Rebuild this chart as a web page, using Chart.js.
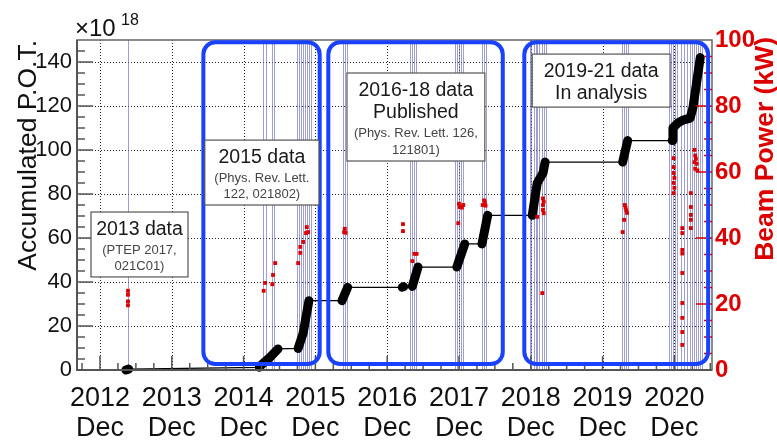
<!DOCTYPE html>
<html>
<head>
<meta charset="utf-8">
<script src="https://cdn.jsdelivr.net/npm/chart.js@4.4.1/dist/chart.umd.min.js"></script>
<style>
html,body{margin:0;padding:0;background:#fff;overflow:hidden}
canvas{display:block}
</style>
</head>
<body>
<canvas id="c" width="777" height="444" style="width:777px;height:444px"></canvas>
<script>
// x values are years after December 2012
const xTickYears = ['2012','2013','2014','2015','2016','2017','2018','2019','2020'];
const xTickValues = [0,1,2,3,4,5,6,7,8];
const leftTickValues = [0,20,40,60,80,100,120,140];
const rightTickValues = [0,20,40,60,80,100];

// Accumulated P.O.T. (x10^18), one list per beam run: [years after Dec 2012, POT]
const potRuns = [
  [[0.36,0],[0.40,0.4]],
  [[2.22,1.2],[2.26,2.7],[2.37,5.9],[2.48,9.6]],
  [[2.76,9.8],[2.83,16.8],[2.88,26],[2.91,31.5]],
  [[3.37,31.5],[3.45,37.6]],
  [[4.21,37.6],[4.23,37.9]],
  [[4.35,38],[4.43,46.8]],
  [[4.97,46.8],[5.08,57.3]],
  [[5.32,57.3],[5.40,70.3]],
  [[6.02,70.3],[6.09,85],[6.17,89.5],[6.20,94.5]],
  [[7.28,94.5],[7.35,104.3]],
  [[7.97,104.3],[7.98,110],[8.05,112.3],[8.12,113.6],[8.22,114.5],[8.26,119.5],[8.36,142]]
];

// Beam power (kW)
const powerTimes = [
  0.39,0.39,0.39,0.39,
  2.28,2.30,2.40,2.41,2.44,2.76,2.79,2.79,2.83,2.87,2.88,2.90,
  3.40,3.41,3.42,4.22,4.22,4.35,4.38,4.41,
  4.99,5.01,5.00,5.04,5.06,5.33,5.35,5.37,5.36,
  6.09,6.16,6.17,6.18,6.17,6.17,6.18,
  7.28,7.30,7.31,7.32,7.33,7.34,
  7.99,7.99,7.99,8.00,7.99,8.00,7.99,
  8.11,8.11,8.11,8.11,8.11,8.11,8.11,8.11,8.11,
  8.23,8.23,8.23,8.23,8.23,
  8.28,8.29,8.30,8.31,8.29,8.32,8.28
];
const powerKW = [
  24,22.8,20.8,19.6,
  24,26.4,26,28.8,32.4,32.4,35.5,37.3,38.8,41.5,43.3,41.8,
  41.8,42.8,41.6,44.2,42.1,33,35.2,35.2,
  44.5,49.4,50.4,49.2,50,50,51.4,49.8,50.8,
  46.4,23.3,52,51,50,48.5,47.5,
  41.8,45.5,50,49.2,48.4,47.6,
  64.2,61.5,59.7,58.2,56.7,55.2,53.6,
  43,41.5,36.4,35.3,29.4,20.3,15.8,11.5,7.6,
  53.6,49.4,47,45.5,43,
  66.7,65,64,62.5,61,60.5,63
];

// Run boundary markers (years after Dec 2012)
const runLineTimes = [
  0.39,
  2.27,2.31,2.40,2.42,
  2.74,2.77,2.80,2.83,2.86,2.88,2.91,2.94,
  3.38,3.41,3.44,
  4.32,4.35,4.37,4.40,
  4.94,4.97,5.00,5.03,5.06,
  5.32,5.35,5.38,
  5.99,6.01,6.04,6.07,6.09,6.12,6.15,6.18,6.21,
  7.27,7.30,7.33,7.35,
  7.92,7.95,7.98,8.01,8.04,8.09,8.13,8.17,8.22,8.25,8.27,8.30,8.33,8.36,8.39
];

// Analysis period frames [t0, t1] and notes
const periodFrames = [[1.44,3.06],[3.18,5.61],[5.91,8.47]];
const noteTexts = [
  ['2013 data','(PTEP 2017,','021C01)'],
  ['2015 data','(Phys. Rev. Lett.','122, 021802)'],
  ['2016-18 data','Published','(Phys. Rev. Lett. 126,','121801)'],
  ['2019-21 data','In analysis']
];
const noteBigLines = [1,1,2,2];
const noteFrames = [[-0.125,1.226,42.3,71.8],[1.46,3.05,75,104.5],[3.44,5.36,95,135],[6.02,7.94,119.5,143.6]];

// ---- build datasets ----
const thinData = [];
const thickData = [];
potRuns.forEach((run, i) => {
  if (i > 0) thickData.push({x: run[0][0], y: null});
  run.forEach(p => { thinData.push({x:p[0], y:p[1]}); thickData.push({x:p[0], y:p[1]}); });
});
const powerData = powerTimes.map((t,i) => ({x:t, y:powerKW[i]}));

const FONT = '"Liberation Sans", Arial, Helvetica, sans-serif';
const RED = '#dd0000';
const BLUE = 'rgb(25,65,255)';

function rr(ctx,x0,y0,x1,y1,r){
  ctx.beginPath();
  ctx.moveTo(x0+r,y0); ctx.lineTo(x1-r,y0); ctx.arcTo(x1,y0,x1,y0+r,r);
  ctx.lineTo(x1,y1-r); ctx.arcTo(x1,y1,x1-r,y1,r);
  ctx.lineTo(x0+r,y1); ctx.arcTo(x0,y1,x0,y1-r,r);
  ctx.lineTo(x0,y0+r); ctx.arcTo(x0,y0,x0+r,y0,r);
  ctx.closePath();
}
function seg(ctx,x0,y0,x1,y1){ctx.beginPath();ctx.moveTo(x0,y0);ctx.lineTo(x1,y1);ctx.stroke();}

const decor = {
  id: 'decor',
  beforeDatasetsDraw(chart) {
    const {ctx, chartArea:a, scales:{x,y}} = chart;
    ctx.save();
    ctx.strokeStyle = '#222'; ctx.lineWidth = 1; ctx.setLineDash([1,2]);
    xTickValues.forEach(v => { const X = Math.round(x.getPixelForValue(v))+0.5; seg(ctx,X,a.top,X,a.bottom); });
    leftTickValues.forEach(v => { if (v===0) return; const Y = Math.round(y.getPixelForValue(v))+0.5; seg(ctx,a.left,Y,a.right,Y); });
    ctx.setLineDash([]);
    ctx.strokeStyle = 'rgba(95,95,180,0.6)'; ctx.lineWidth = 1;
    runLineTimes.forEach(t => { const X = Math.round(x.getPixelForValue(t))+0.5; seg(ctx,X,a.top,X,a.bottom); });
    ctx.restore();
  },
  afterDatasetsDraw(chart) {
    const {ctx, chartArea:a, scales:{x,y,y2}} = chart;
    ctx.save();
    // frame
    ctx.strokeStyle = '#666'; ctx.lineWidth = 1.5;
    ctx.strokeRect(a.left, a.top, a.right-a.left, a.bottom-a.top);
    ctx.strokeStyle = '#555'; ctx.lineWidth = 2;
    seg(ctx,a.left,a.top,a.left,a.bottom+1); seg(ctx,a.left-1,a.bottom,a.right,a.bottom);
    // inward ticks
    ctx.lineWidth = 1.5; ctx.strokeStyle = '#555';
    for (let v = 5; v < 150; v += 5) { const Y = y.getPixelForValue(v); seg(ctx,a.left,Y,a.left+(v%20===0?16:8),Y); }
    for (let k = Math.ceil(x.min*4); k <= Math.floor(x.max*4); k++) { const X = x.getPixelForValue(k/4); seg(ctx,X,a.bottom,X,a.bottom-(k%4===0?14:7)); }
    ctx.strokeStyle = RED;
    for (let v = 5; v < 100; v += 5) { const Y = y2.getPixelForValue(v); seg(ctx,a.right,Y,a.right-(v%20===0?16:8),Y); }
    // period frames
    ctx.strokeStyle = BLUE; ctx.lineWidth = 4;
    periodFrames.forEach(f => { rr(ctx, x.getPixelForValue(f[0]), y.getPixelForValue(149), x.getPixelForValue(f[1]), y.getPixelForValue(2.7), 12); ctx.stroke(); });
    // notes
    noteFrames.forEach((f,i) => {
      const x0 = x.getPixelForValue(f[0]), x1 = x.getPixelForValue(f[1]);
      const y0 = y.getPixelForValue(f[3]), y1 = y.getPixelForValue(f[2]);
      ctx.fillStyle = '#fff'; ctx.fillRect(x0,y0,x1-x0,y1-y0);
      ctx.strokeStyle = '#555'; ctx.lineWidth = 1.2; ctx.strokeRect(x0,y0,x1-x0,y1-y0);
      const cx = (x0+x1)/2; let cy = y0 + 17.5;
      ctx.textAlign = 'center'; ctx.textBaseline = 'middle';
      noteTexts[i].forEach((t,j) => {
        const big = j < noteBigLines[i];
        if (j > 0) cy += big ? 22.5 : (j === noteBigLines[i] ? 20.5 : 16.5);
        ctx.fillStyle = big ? '#1a1a1a' : '#444';
        ctx.font = (big ? '19.5px ' : '13px ') + FONT;
        ctx.fillText(t, cx, cy);
      });
    });
    ctx.restore();
  },
  afterDraw(chart) {
    const {ctx, chartArea:a} = chart;
    ctx.save();
    ctx.fillStyle = '#111';
    ctx.font = '24px ' + FONT; ctx.textAlign = 'left'; ctx.textBaseline = 'alphabetic';
    ctx.fillText('\u00d710', 75, 36);
    ctx.font = '16px ' + FONT; ctx.fillText('18', 121, 25);
    // left title
    ctx.save(); ctx.translate(36, a.top); ctx.rotate(-Math.PI/2);
    ctx.font = '26.5px ' + FONT; ctx.textAlign = 'right'; ctx.fillStyle = '#111';
    ctx.fillText('Accumulated P.O.T.', 0, 0); ctx.restore();
    // right title
    ctx.save(); ctx.translate(773, 37); ctx.rotate(-Math.PI/2);
    ctx.font = 'bold 26.5px ' + FONT; ctx.textAlign = 'right'; ctx.fillStyle = RED;
    ctx.fillText('Beam Power (kW)', 0, 0); ctx.restore();
    ctx.restore();
  }
};

new Chart(document.getElementById('c'), {
  type: 'line',
  data: { datasets: [
    { data: powerData, showLine: false, pointStyle: 'rect', pointRadius: 2.7, pointBackgroundColor: RED, pointBorderWidth: 0, yAxisID: 'y2', order: 0, clip: false },
    { data: thickData, borderColor: '#000', borderWidth: 9, borderCapStyle: 'round', borderJoinStyle: 'round', pointRadius: 0, spanGaps: false, yAxisID: 'y', order: 1, clip: false },
    { data: thinData, borderColor: '#000', borderWidth: 1.3, pointRadius: 0, yAxisID: 'y', order: 2, clip: false }
  ]},
  options: {
    responsive: false, animation: false, events: [],
    layout: { padding: { top: 40, left: 0, right: 0, bottom: 0 } },
    plugins: { legend: { display: false }, tooltip: { enabled: false } },
    scales: {
      x: {
        type: 'linear', min: -0.32, max: 8.524,
        afterBuildTicks: s => { s.ticks = xTickValues.map(v => ({value: v})); },
        afterFit: s => { s.height = 74; },
        grid: { display: false, drawTicks: false }, border: { display: false },
        ticks: { autoSkip: false, maxRotation: 0, minRotation: 0, padding: 14, color: '#111',
          font: { family: FONT, size: 27, lineHeight: 1.1 },
          callback: (v, i) => [xTickYears[i], 'Dec'] }
      },
      y: {
        position: 'left', min: 0, max: 150,
        afterBuildTicks: s => { s.ticks = leftTickValues.map(v => ({value: v})); },
        afterFit: s => { s.width = 77; },
        grid: { display: false, drawTicks: false }, border: { display: false },
        ticks: { padding: 5, color: '#111', font: { family: '"Liberation Sans Narrow", ' + FONT, size: 22 } }
      },
      y2: {
        position: 'right', min: 0, max: 100,
        afterBuildTicks: s => { s.ticks = rightTickValues.map(v => ({value: v})); },
        afterFit: s => { s.width = 65; },
        grid: { display: false, drawTicks: false }, border: { display: false },
        ticks: { padding: 3, color: RED, font: { family: FONT, size: 24, weight: 'bold' } }
      }
    }
  },
  plugins: [decor]
});
</script>
</body>
</html>
